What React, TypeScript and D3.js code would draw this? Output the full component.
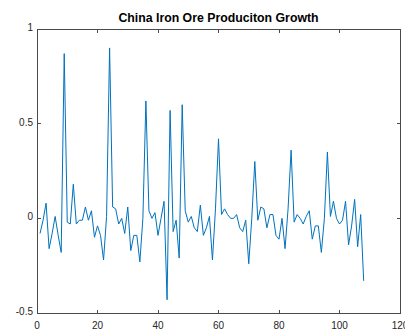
import React from 'react';
import * as d3 from 'd3';

// monthly growth values, x = 1..108
const growth = [
  -0.08, -0.01, 0.08, -0.16, -0.08, 0.01, -0.09, -0.18, 0.87, -0.02,
  -0.03, 0.18, -0.03, -0.01, -0.01, 0.06, -0.01, 0.04, -0.1, -0.04,
  -0.09, -0.22, 0.01, 0.9, 0.06, 0.05, -0.03, 0.0, -0.08, 0.06,
  -0.17, -0.09, -0.09, -0.23, 0.0, 0.62, 0.04, 0.0, 0.03, -0.09,
  0.0, 0.09, -0.43, 0.57, -0.07, -0.01, -0.21, 0.6, 0.04, -0.02,
  0.01, -0.05, -0.07, 0.07, -0.09, -0.05, 0.01, -0.22, 0.05, 0.42,
  0.02, 0.05, 0.02, 0.0, 0.0, 0.02, -0.05, -0.07, -0.01, -0.24,
  0.0, 0.3, -0.01, 0.06, 0.05, -0.05, 0.02, 0.02, -0.09, -0.11,
  0.0, -0.16, 0.05, 0.36, -0.02, 0.02, 0.0, -0.03, 0.01, 0.04,
  -0.11, -0.04, -0.04, -0.18, 0.0, 0.35, 0.01, 0.09, 0.0, -0.03,
  -0.01, 0.09, -0.14, -0.04, 0.1, -0.15, 0.02, -0.33,
];
const xTicks = [0, 20, 40, 60, 80, 100, 120];
const yTicks = [-0.5, 0, 0.5, 1];
const title = 'China Iron Ore Produciton Growth';

export default function App() {
  const width = 405;
  const height = 331;
  const margin = { top: 29, right: 5, bottom: 18, left: 37 };
  const innerW = width - margin.left - margin.right;
  const innerH = height - margin.top - margin.bottom;

  const x = d3.scaleLinear().domain([0, 120]).range([0, innerW]);
  const y = d3.scaleLinear().domain([-0.5, 1]).range([innerH, 0]);

  const line = d3
    .line<number>()
    .x((d, i) => x(i + 1))
    .y((d) => y(d));

  const axisColor = '#4a4a4a';
  const textColor = '#262626';
  const font = '"Liberation Sans", Arial, Helvetica, sans-serif';

  return (
    <svg
      width={width}
      height={height}
      style={{ position: 'absolute', left: 0, top: 0, background: '#fff' }}
    >
      <text
        x={margin.left + innerW / 2}
        y={22}
        textAnchor="middle"
        fontFamily={font}
        fontWeight="bold"
        fontSize={12.3}
        fill="#000"
      >
        {title}
      </text>
      <g transform={`translate(${margin.left}, ${margin.top})`}>
        <path d={line(growth) || ''} fill="none" stroke="#0072BD" strokeWidth={1} />
        <rect
          x={0}
          y={0}
          width={innerW}
          height={innerH}
          fill="none"
          stroke={axisColor}
          strokeWidth={1}
          shapeRendering="crispEdges"
        />
        {xTicks.map((t) => (
          <g key={`x${t}`}>
            <line x1={x(t)} x2={x(t)} y1={innerH} y2={innerH - 3.5} stroke={axisColor} shapeRendering="crispEdges" />
            <line x1={x(t)} x2={x(t)} y1={0} y2={3.5} stroke={axisColor} shapeRendering="crispEdges" />
            <text
              x={x(t)}
              y={innerH + 16}
              textAnchor="middle"
              fontFamily={font}
              fontSize={10}
              fill={textColor}
            >
              {t}
            </text>
          </g>
        ))}
        {yTicks.map((t) => (
          <g key={`y${t}`}>
            <line x1={0} x2={3.5} y1={y(t)} y2={y(t)} stroke={axisColor} shapeRendering="crispEdges" />
            <line x1={innerW} x2={innerW - 3.5} y1={y(t)} y2={y(t)} stroke={axisColor} shapeRendering="crispEdges" />
            <text
              x={-4}
              y={y(t)}
              dy="0.2em"
              textAnchor="end"
              fontFamily={font}
              fontSize={10}
              fill={textColor}
            >
              {t}
            </text>
          </g>
        ))}
      </g>
    </svg>
  );
}
